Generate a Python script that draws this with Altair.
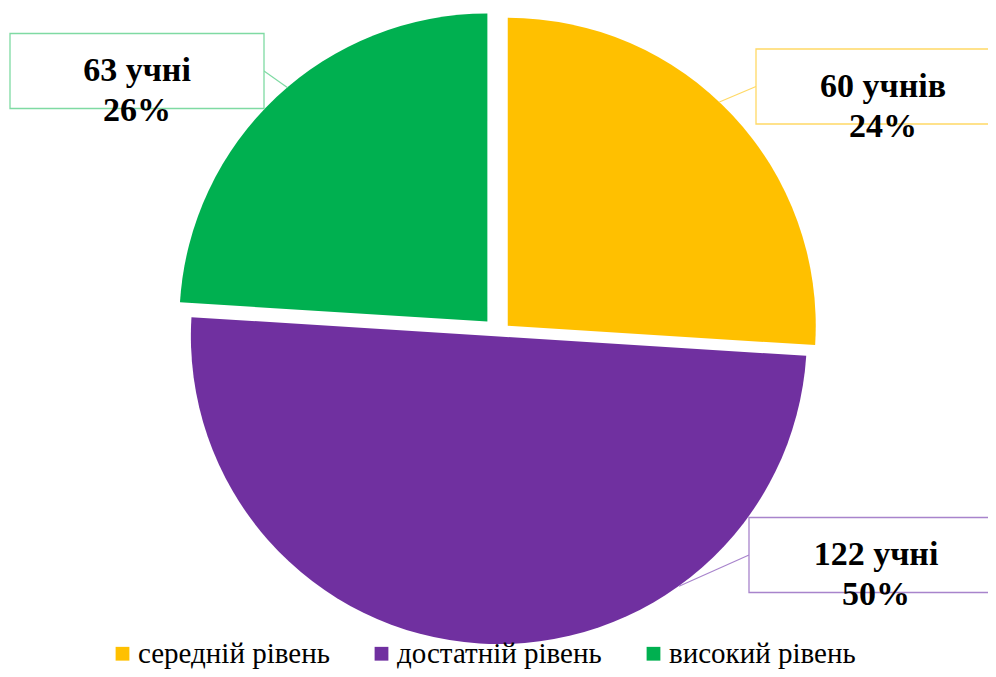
import math
import altair as alt
import pandas as pd

# ---- data ----
levels = ["середній рівень", "достатній рівень", "високий рівень"]
students = [60, 122, 63]
count_words = ["учнів", "учні", "учні"]
percent_labels = ["24%", "50%", "26%"]
# slice shares as drawn in the reference (degrees of each wedge / 3.6)
slice_share = [26, 50, 24]

# ---- styles / layout ----
colors = ["#FFC000", "#7030A0", "#00B050"]
border_colors = ["#FFD966", "#A884CC", "#7FDAA3"]
W, H = 980, 661
CX, CY = 491, 326          # pie centre (px)
R = 308                    # pie radius (px)
explode = [12, 2.5, 17]    # explosion distance of each wedge (px)
box_center = [(875, 78.5), (868, 547), (129, 63)]
BOX_W, BOX_H = 254, 75
leader_angle = [43.4, 144.2, 319.5]  # where the leader meets the wedge (deg)
FONT = "'Times New Roman', 'Liberation Serif', 'DejaVu Serif', serif"

# ---- build the table ----
rows = []
total = sum(slice_share)
cum = 0.0
for i, lev in enumerate(levels):
    t0 = cum / total * 2 * math.pi
    cum += slice_share[i]
    t1 = cum / total * 2 * math.pi
    mid = (t0 + t1) / 2
    ax = CX + explode[i] * math.sin(mid)
    ay = CY - explode[i] * math.cos(mid)
    la = math.radians(leader_angle[i])
    px = ax + R * math.sin(la)
    py = ay - R * math.cos(la)
    bx, by = box_center[i]
    side = -1 if bx > CX else 1
    rows.append(dict(
        level=lev, t0=t0, t1=t1, ax=ax, ay=ay,
        px=px, py=py, lx=bx + side * BOX_W / 2, ly=by,
        bx0=bx - BOX_W / 2, bx1=bx + BOX_W / 2,
        by0=by - BOX_H / 2, by1=by + BOX_H / 2,
        tx=bx, ty=by,
        label=f"{students[i]} {count_words[i]}\n{percent_labels[i]}",
        border=border_colors[i],
    ))
df = pd.DataFrame(rows)

base = alt.Chart(df)

pie = base.mark_arc(radius=R).encode(
    theta=alt.Theta("t0:Q", scale=None, stack=None),
    theta2="t1:Q",
    x=alt.X("ax:Q", scale=None),
    y=alt.Y("ay:Q", scale=None),
    color=alt.Color(
        "level:N",
        scale=alt.Scale(domain=levels, range=colors),
        legend=alt.Legend(
            orient="none", legendX=100, legendY=631, direction="horizontal",
            columns=3, title=None, symbolType="square", symbolSize=190,
            symbolStrokeWidth=0, labelFont=FONT, labelFontSize=29,
            labelColor="#000000", labelOffset=1, columnPadding=37,
            padding=0, labelLimit=500,
        ),
    ),
)

leaders = base.mark_rule(strokeWidth=1.2).encode(
    x=alt.X("px:Q", scale=None), y=alt.Y("py:Q", scale=None),
    x2="lx:Q", y2="ly:Q",
    color=alt.Color("border:N", scale=None, legend=None),
)

boxes = base.mark_rect(fill="white", strokeWidth=1.3).encode(
    x=alt.X("bx0:Q", scale=None), x2="bx1:Q",
    y=alt.Y("by0:Q", scale=None), y2="by1:Q",
    stroke=alt.Stroke("border:N", scale=None, legend=None),
)

texts = base.mark_text(
    font=FONT, fontSize=34, fontWeight="bold", lineBreak="\n",
    lineHeight=40, align="center", baseline="middle", color="#000000",
).encode(
    x=alt.X("tx:Q", scale=None), y=alt.Y("ty:Q", scale=None), text="label:N",
)

chart = alt.layer(pie, leaders, boxes, texts).properties(
    width=W, height=H, padding=0, background="white",
    autosize=alt.AutoSizeParams(type="none"),
).configure_view(strokeWidth=0, stroke="transparent")

chart.save("out.html", embed_options={"renderer": "svg", "actions": False})
